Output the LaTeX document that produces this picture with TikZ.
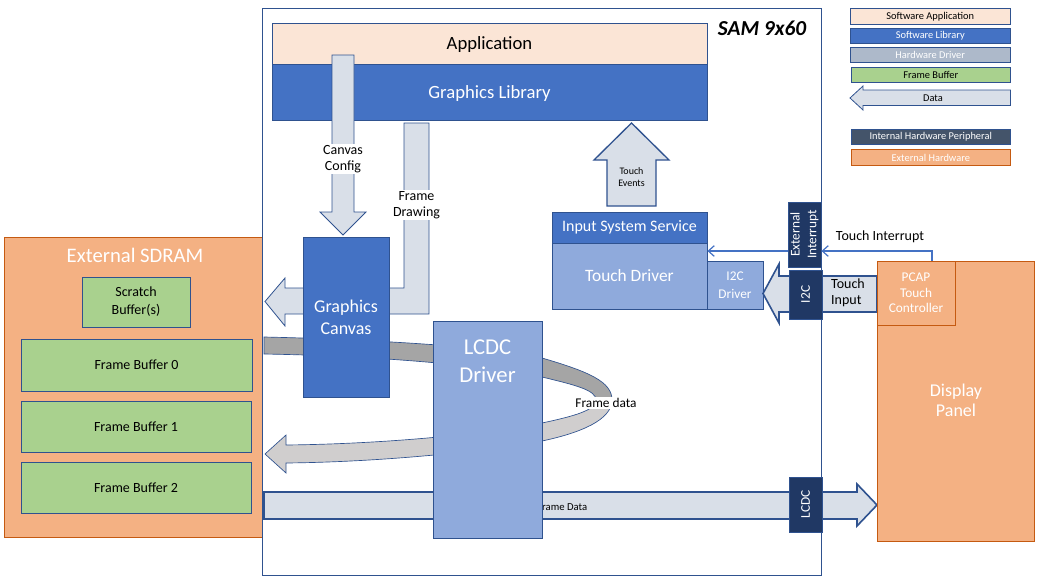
\documentclass[tikz,border=0pt]{standalone}
\usepackage{fontspec}
\setmainfont{Carlito}
\usetikzlibrary{fit,arrows.meta}
\definecolor{bdr}{HTML}{2F528F}
\definecolor{appc}{HTML}{FBE5D6}
\definecolor{libc}{HTML}{4472C4}
\definecolor{drvc}{HTML}{8FAADC}
\definecolor{hwdc}{HTML}{ADB9CA}
\definecolor{fbc}{HTML}{A9D18E}
\definecolor{arc}{HTML}{D9DFE8}
\definecolor{dkband}{HTML}{A5A5A5}
\definecolor{ltband}{HTML}{D0CECE}
\definecolor{navy}{HTML}{203864}
\definecolor{slate}{HTML}{44546A}
\definecolor{orng}{HTML}{F4B183}
\definecolor{orngb}{HTML}{C55A11}
\newcommand\fz[2]{\fontsize{#1}{#2}\selectfont}
\tikzset{
  bx/.style={draw=bdr, line width=0.6pt, inner sep=0pt},
  hw/.style={draw=orngb, fill=orng, line width=0.6pt, inner sep=0pt},
  navybox/.style={draw=bdr, fill=navy, line width=0.6pt, inner sep=0pt},
  blk/.style={draw=bdr, fill=arc, line width=0.6pt, line join=miter},
  band/.style={draw=bdr, line width=0.5pt},
  lbl/.style={inner sep=1pt, align=center},
  wl/.style={lbl, text=white},
  lgf/.style={font=\fz{7.8}{9.4}},
  conn/.style={draw=libc, line width=0.9pt, -{Straight Barb[length=4.5pt,width=8pt]}},
}
\begin{document}
\begin{tikzpicture}[x=0.75pt,y=-0.75pt]
\useasboundingbox (0,0) rectangle (1039,582);

% External SDRAM
\node[hw, fit={(4,237) (262,537)}] (sdram) {};
\node[wl, font=\fz{15.5}{18}] (sdramlbl) at (135,255) {External SDRAM};
\node[bx, fill=fbc, fit={(82,277) (190,327)}] (scratch) {};
\node[lbl, font=\fz{10.5}{13.5}] (scratchlbl) at (scratch.center) {Scratch\\Buffer(s)};
\node[bx, fill=fbc, fit={(21,339) (252,391)}] (fb0) {};
\node[lbl, font=\fz{10.5}{13}] (fb0lbl) at (fb0.center) {Frame Buffer 0};
\node[bx, fill=fbc, fit={(21,401) (251,452)}] (fb1) {};
\node[lbl, font=\fz{10.5}{13}] (fb1lbl) at (fb1.center) {Frame Buffer 1};
\node[bx, fill=fbc, fit={(21,462) (251,513)}] (fb2) {};
\node[lbl, font=\fz{10.5}{13}] (fb2lbl) at (fb2.center) {Frame Buffer 2};

% SAM 9x60 boundary
\node[draw=bdr, line width=0.6pt, inner sep=0pt, fit={(262,8) (821,575)}] (sam) {};
\node[lbl, font=\bfseries\itshape\fz{16}{19}] (samlbl) at (762,28) {SAM 9x60};

% Application / Graphics Library
\node[bx, fill=appc, fit={(272,23) (707,64)}] (app) {};
\node[lbl, font=\fz{14}{17}] (applbl) at ([yshift=-0.8pt]app.center) {Application};
\node[bx, fill=libc, fit={(272,64) (707,120)}] (glib) {};
\node[wl, font=\fz{14}{17}] (gliblbl) at ([yshift=-1.2pt]glib.center) {Graphics Library};

% Frame data loop
\path[band, fill=dkband] (264,337) .. controls (400,340) and (520,350) .. (542,358)
  .. controls (590,372) and (612,382) .. (612,400) -- (596,400)
  .. controls (596,390) and (575,385) .. (542,377)
  .. controls (480,365) and (380,356) .. (264,354) -- cycle;
\path[band, fill=ltband] (612,400) .. controls (612,420) and (580,433) .. (542,441)
  .. controls (480,452) and (380,462) .. (286,463) -- (286,473) -- (265,454) -- (286,435) -- (286,445)
  .. controls (380,444) and (480,435) .. (542,423)
  .. controls (575,416) and (596,410) .. (596,400) -- cycle;

% Frame Drawing bent arrow
\path[blk] (404,123) -- (429,123) -- (429,314) -- (285,314) -- (285,326) -- (265,301.5) -- (285,278) -- (285,288) -- (404,288) -- cycle;
\node[lbl, fill=white, font=\fz{10.5}{12}] (fdlbl) at (416.5,205) {Frame\\Drawing};

% Canvas Config arrow
\path[blk] (332,55) -- (354,55) -- (354,212) -- (366,212) -- (343,235) -- (320,212) -- (332,212) -- cycle;
\node[lbl, fill=white, font=\fz{10.5}{12}] (cclbl) at (343,159) {Canvas\\Config};

% Graphics Canvas
\node[bx, fill=libc, fit={(303,237) (389,397)}] (canvas) {};
\node[wl, font=\fz{13.5}{16.3}] (canvaslbl) at (346,317.5) {Graphics\\Canvas};

% Frame Data arrow to display
\path[blk, line width=1.2pt] (264,492) -- (857,492) -- (857,484) -- (877,505) -- (857,526) -- (857,519) -- (264,519) -- cycle;
\node[anchor=west, inner sep=0pt, font=\fz{8}{9.6}] (fdata) at (537,507) {Frame Data};

% LCDC Driver
\node[bx, fill=drvc, fit={(433,321) (542,538)}] (lcdc) {};
\node[wl, font=\fz{17}{21.2}] (lcdclbl) at (487.5,361) {LCDC\\Driver};

\node[lbl, fill=white, font=\fz{10}{12}] (fdl) at (606,403) {Frame data};

% Touch Events arrow
\path[blk, line width=1pt] (607,206) -- (656,206) -- (656,160) -- (669,160) -- (631.5,123) -- (594,160) -- (607,160) -- cycle;
\node[lbl, font=\fz{7.5}{8.8}] (telbl) at (631.5,177) {Touch\\Events};

% Input system
\node[bx, fill=libc, fit={(552,212) (707,243)}] (iss) {};
\node[wl, font=\fz{12}{14}] (isslbl) at (iss.center) {Input System Service};
\node[bx, fill=drvc, fit={(552,243) (707,309)}] (tdrv) {};
\node[wl, font=\fz{13}{15}] (tdrvlbl) at (tdrv.center) {Touch Driver};
\node[bx, fill=drvc, fit={(707,261) (763,309)}] (i2cdrv) {};
\node[wl, font=\fz{10}{13.5}] (i2cdrvlbl) at (i2cdrv.center) {I2C\\Driver};

% Touch Input arrow
\path[blk, line width=1.2pt] (877,276) -- (877,312) -- (779,312) -- (779,323) -- (763,293.5) -- (779,264) -- (779,276) -- cycle;
\node[lbl, align=left, font=\fz{10.5}{11.8}] (tilbl) at (848,293) {Touch\\Input};

% Peripheral boxes
\node[navybox, fit={(788,202) (821,267)}] (extint) {};
\node[wl, rotate=90, font=\fz{10}{12.5}] (extintlbl) at (extint.center) {External\\Interrupt};
\node[navybox, fit={(789,270) (822,319)}] (i2c) {};
\node[wl, rotate=90, font=\fz{10}{12}] (i2clbl) at (i2c.center) {I2C};
\node[navybox, fit={(789,477) (822,532)}] (lcdcp) {};
\node[wl, rotate=90, font=\fz{10}{12}] (lcdcplbl) at (lcdcp.center) {LCDC};

% Display panel
\node[hw, fit={(877,261) (1034,541)}] (disp) {};
\node[wl, font=\fz{13.5}{15}] (displbl) at (956,400) {Display\\Panel};
\node[hw, fit={(877,261) (955,325)}] (pcap) {};
\node[wl, font=\fz{10}{11.6}] (pcaplbl) at (pcap.center) {PCAP\\Touch\\Controller};

% Touch interrupt
\coordinate (tiy) at (932,251);
\draw[conn] (pcap.north -| tiy) -- (tiy) -- (extint.east |- tiy);
\draw[conn] (extint.west |- tiy) -- (tdrv.east |- tiy);
\node[lbl, font=\fz{10.5}{12}] (tintlbl) at (880,237) {Touch Interrupt};

% Legend
\node[bx, fill=appc, fit={(850,8.5) (1010.5,24.5)}] (lg1) {};
\node[lbl, lgf] (lg1lbl) at (lg1.center) {Software Application};
\node[bx, fill=libc, fit={(850,28) (1010.5,43.5)}] (lg2) {};
\node[wl, lgf] (lg2lbl) at (lg2.center) {Software Library};
\node[bx, fill=hwdc, fit={(850,47) (1010.5,62.5)}] (lg3) {};
\node[wl, lgf] (lg3lbl) at (lg3.center) {Hardware Driver};
\node[bx, fill=fbc, fit={(851,67) (1010.5,82.5)}] (lg4) {};
\node[lbl, lgf] (lg4lbl) at (lg4.center) {Frame Buffer};
\path[blk] (1010.5,90) -- (1010.5,105.5) -- (863,105.5) -- (863,110) -- (850,98) -- (863,86) -- (863,90) -- cycle;
\node[lbl, lgf] (lg5) at (933,98) {Data};
\node[bx, fill=slate, fit={(851,129.5) (1010.5,144.5)}] (lg6) {};
\node[wl, lgf] (lg6lbl) at (lg6.center) {Internal Hardware Peripheral};
\node[hw, fit={(851,149.5) (1010.5,165.5)}] (lg7) {};
\node[wl, lgf] (lg7lbl) at (lg7.center) {External Hardware};
\end{tikzpicture}
\end{document}
